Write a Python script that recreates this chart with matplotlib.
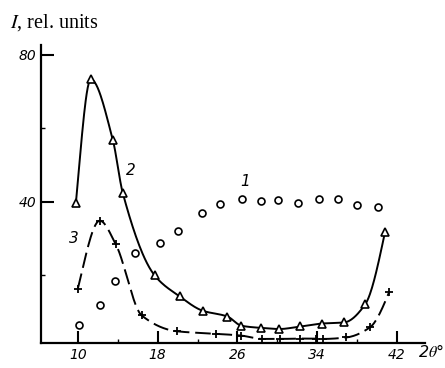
import numpy as np
import matplotlib.pyplot as plt

plt.rcParams['font.family'] = ['DejaVu Sans']
plt.rcParams['mathtext.fontset'] = 'stix'

# curve 1 - circles, points only
x1 = [10.1, 12.2, 13.7, 15.7, 18.2, 20.0, 22.4, 24.3, 26.5, 28.4, 30.1, 32.1, 34.2, 36.1, 38.0, 40.1]
y1 = [6.5, 11.9, 18.4, 25.9, 28.6, 32.1, 36.8, 39.3, 40.7, 40.2, 40.5, 39.7, 40.7, 40.7, 39.1, 38.5]

# curve 2 - triangles, solid
x2 = [9.8, 11.3, 13.5, 14.5, 17.7, 20.2, 22.5, 25.0, 26.4, 28.4, 30.2, 32.3, 34.5, 36.7, 38.8, 40.8]
y2 = [39.5, 73.3, 56.9, 42.4, 19.9, 14.2, 10.3, 8.7, 6.2, 5.6, 5.3, 6.0, 6.8, 7.1, 12.0, 31.8]

# curve 3 - pluses, dashed
x3 = [10.0, 12.2, 13.8, 16.4, 19.9, 23.9, 26.4, 28.5, 30.3, 32.3, 33.9, 34.6, 36.9, 39.3, 41.2]
y3 = [16.3, 34.8, 28.4, 9.0, 4.7, 4.0, 3.5, 2.6, 2.6, 2.7, 2.7, 2.6, 3.0, 5.8, 15.3]


def smooth(x, y, n=30):
    # monotone cubic (Fritsch-Carlson) curve through the points, for drawing
    x = np.asarray(x, float)
    y = np.asarray(y, float)
    h = np.diff(x)
    d = np.diff(y) / h
    m = np.zeros_like(y)
    for i in range(1, len(x) - 1):
        if d[i - 1] * d[i] > 0:
            w1 = 2 * h[i] + h[i - 1]
            w2 = h[i] + 2 * h[i - 1]
            m[i] = (w1 + w2) / (w1 / d[i - 1] + w2 / d[i])
    m[0] = d[0] * 1.3
    m[-1] = d[-1] * 1.3
    xs, ys = [], []
    for i in range(len(x) - 1):
        t = np.linspace(0, 1, n)
        h00 = 2 * t ** 3 - 3 * t ** 2 + 1
        h10 = t ** 3 - 2 * t ** 2 + t
        h01 = -2 * t ** 3 + 3 * t ** 2
        h11 = t ** 3 - t ** 2
        xs.append(x[i] + t * h[i])
        ys.append(h00 * y[i] + h10 * h[i] * m[i] + h01 * y[i + 1] + h11 * h[i] * m[i + 1])
    return np.concatenate(xs), np.concatenate(ys)


fig = plt.figure(figsize=(4.45, 3.68), dpi=100)
ax = fig.add_axes([0.092, 0.068, 0.863, 0.81])

sx, sy = smooth(x2, y2)
ax.plot(sx, sy, color='black', lw=1.4)
ax.plot(x2, y2, linestyle='none', marker='^', ms=6, mfc='white', mec='black', mew=1.2)

sx, sy = smooth(x3, y3)
ax.plot(sx, sy, color='black', lw=1.4, dashes=(8, 3))
ax.plot(x3, y3, linestyle='none', marker='+', ms=6, mec='black', mew=1.3)

ax.plot(x1, y1, linestyle='none', marker='o', ms=5, mfc='white', mec='black', mew=1.2)

ax.set_xlim(6.3, 44.8)
ax.set_ylim(1.5, 82.7)
ax.set_xticks([10, 18, 26, 34, 42])
ax.set_yticks([40, 80])
ax.set_xticks([14, 22, 30, 38], minor=True)
ax.set_yticks([20, 60], minor=True)
ax.tick_params(axis='both', which='major', direction='in', length=9, width=1.5, labelsize=10)
ax.tick_params(axis='both', which='minor', direction='in', length=3, width=1)
for lab in ax.get_xticklabels() + ax.get_yticklabels():
    lab.set_fontstyle('italic')

for s in ['top', 'right']:
    ax.spines[s].set_visible(False)
for s in ['left', 'bottom']:
    ax.spines[s].set_linewidth(1.6)

ax.text(26.8, 45.5, '1', fontsize=11, style='italic', ha='center', va='center')
ax.text(15.3, 48.6, '2', fontsize=11, style='italic', ha='center', va='center')
ax.text(9.6, 30.0, '3', fontsize=11, style='italic', ha='center', va='center')

fig.text(0.022, 0.94, '$I$, rel. units', fontsize=14.5, family='Liberation Serif', va='center')
fig.text(0.94, 0.046, '2$\\theta$°', fontsize=11.5, style='italic', va='center')

fig.savefig('out.png', dpi=100)
